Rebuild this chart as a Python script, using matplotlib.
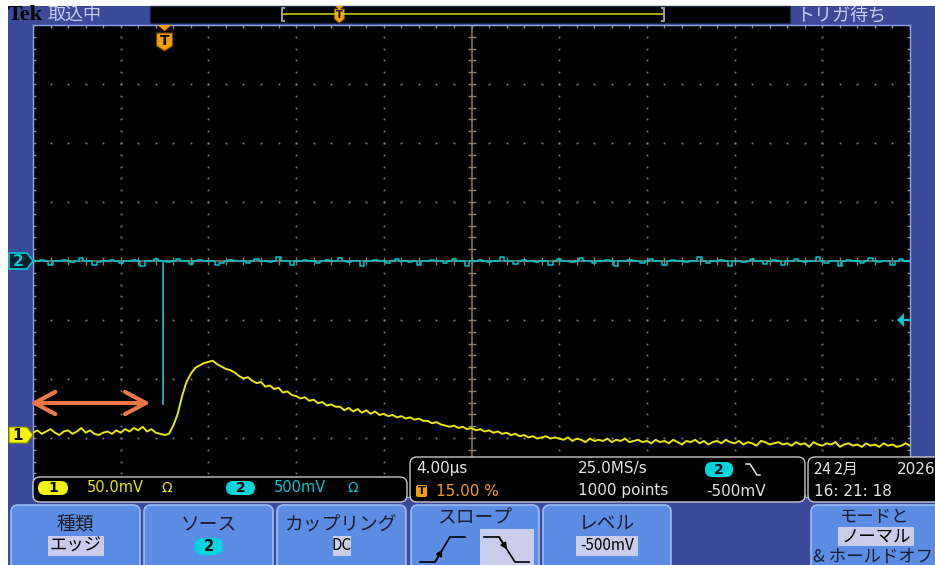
import numpy as np
import matplotlib.pyplot as plt
from matplotlib.patches import FancyBboxPatch, Rectangle, Polygon

plt.rcParams['font.family'] = ['Noto Sans CJK JP', 'DejaVu Sans']

W, H = 935, 565

# horizontal: 4 us/div, 10 div, trigger at 15 %
t_start, t_stop = -6.0, 34.0
trig_pct = 15.0

# CH1: 50 mV/div, position -2.95 div ; CH2: 500 mV/div, position 0 div
ch1_scale, ch1_pos = 50.0, -2.95
ch2_scale, ch2_pos = 500.0, 0.0
trig_level = -500.0

# CH1 samples every 0.2 us, mV
ch1_mv = [
    2, 4, 1, 3, 5, 2, 0, 3, 4, 1,
    3, 6, 2, 4, 1, 0, 2, 3, 1, 4,
    2, 5, 3, 6, 4, 7, 3, 5, 2, 1,
    0, 1, 8, 18, 33, 45, 52, 57, 59, 61,
    62, 63, 60, 58, 56, 55, 53, 50, 48, 49,
    46, 44, 45, 41, 42, 39, 40, 36, 37, 34,
    33, 31, 32, 29, 30, 27, 28, 25, 26, 24,
    24, 21, 23, 20, 22, 19, 21, 18, 20, 17,
    18, 16, 17, 15, 16, 14, 15, 13, 14, 12,
    12, 10, 11, 9, 8, 7, 8, 6, 7, 5,
    6, 4, 5, 3, 4, 2, 3, 1, 2, 0,
    1, -1, 0, -2, -1, -3, -2, -1, -3, -2,
    -3, -4, -2, -5, -3, -4, -6, -3, -5, -4,
    -5, -3, -6, -4, -5, -3, -6, -5, -4, -6,
    -5, -7, -4, -6, -5, -7, -4, -6, -8, -5,
    -6, -4, -7, -5, -8, -6, -5, -7, -4, -6,
    -7, -5, -8, -6, -7, -9, -5, -6, -8, -7,
    -6, -8, -7, -9, -6, -8, -7, -10, -6, -8,
    -9, -7, -8, -6, -10, -8, -7, -9, -8, -10,
    -7, -9, -8, -10, -7, -9, -8, -10, -9, -7,
    -9,
]

# CH2 samples every 0.2 us, mV
ch2_mv = [
    0, 0, 10, 0, -30, 0, 0, 8, 0, -10,
    0, 25, 0, 0, -35, -10, 0, 0, 10, 0,
    -20, 0, 0, 8, 0, -40, 0, 0, 15, 0,
    0, -10, 0, 20, 0, 0, -25, 0, 8, 0,
    0, 0, -30, -15, 0, 10, 0, 0, 0, -20,
    0, 15, 0, 0, -8, 0, 30, 0, 0, -35,
    0, 0, 10, 0, 0, -20, 0, 8, 0, 0,
    25, 0, -10, 0, 0, -40, 0, 0, 10, 0,
    0, -15, 0, 20, 0, 0, -8, 0, -30, 0,
    0, 10, 0, 0, -20, 0, 15, 0, 0, -45,
    0, 0, 8, 0, -10, 0, 0, 30, 0, 0,
    -25, 0, 10, 0, 0, -8, 0, 0, -35, 0,
    15, 0, 0, -10, 0, 25, 0, 0, -20, 0,
    0, 8, 0, -40, 0, 0, 10, 0, 0, -15,
    0, 20, 0, 0, -30, 0, 8, 0, 0, -10,
    0, 0, 35, 0, -20, 0, 0, 10, 0, -45,
    0, 0, -10, 0, 15, 0, 0, -25, 0, 8,
    0, -35, 0, 0, 20, 0, -10, 0, 0, 30,
    0, -15, 0, 0, -40, 0, 10, 0, 0, -20,
    0, 25, 0, -8, 0, 0, -30, 0, 15, 0,
    0,
]
# narrow negative pulse on CH2 (the trigger source)
ch2_glitch_t = -0.05
ch2_glitch_mv = -1220.0

ch1_text = ['50.0mV', 'Ω']
ch2_text = ['500mV', 'Ω']
horiz_text = ['4.00µs', '15.00 %', '25.0MS/s', '1000 points', '-500mV']
date_text = ['24 2月', '2026', '16: 21: 18']
button_titles = ['種類', 'ソース', 'カップリング', 'スロープ', 'レベル', 'モードと']
button_values = ['エッジ', '2', 'DC', None, '-500mV', 'ノーマル']

FRAME = '#3B4A99'
BTN = '#5B8DE4'
BTN_EDGE = '#9DBBF2'
HILITE = '#C9CCEA'
YEL = '#E8E800'
CYN = '#00C6D2'
ORG = '#F5A000'
TXT = '#1C1C2A'

# graticule in pixels
GL, GT, GR, GB = 33, 25, 910, 497


def rect(l, t, r, b):
    return [l / W, 1 - b / H, (r - l) / W, (b - t) / H]


def t_px(t):
    return GL + (t - t_start) / (t_stop - t_start) * (GR - GL)


def div_py(d):
    return (GT + GB) / 2 - d * (GB - GT) / 8


def rbox(ax, l, t, r, b, fc, ec='none', lw=1.0, rs=5, z=2):
    ax.add_patch(FancyBboxPatch((l, t), r - l, b - t,
                                boxstyle=f'round,pad=0,rounding_size={rs}',
                                fc=fc, ec=ec, lw=lw, zorder=z))


fig = plt.figure(figsize=(W / 100, H / 100), dpi=100, facecolor='white')

# frame / chrome underneath
bg = fig.add_axes([0, 0, 1, 1])
bg.set_xlim(0, W)
bg.set_ylim(H, 0)
bg.axis('off')
bg.set_zorder(0)
bg.add_patch(Rectangle((8, 6), W - 8, H - 6, fc=FRAME, ec='none'))
bg.add_patch(Rectangle((150, 6), 640, 17, fc='black', ec='#20284a', lw=1))
# record view
rec_l, rec_r = 282, 664
bg.plot([rec_l, rec_r], [14, 14], color='#C8C800', lw=1.2)
for bx, d in [(rec_l, 1), (rec_r, -1)]:
    bg.plot([bx + 2 * d, bx, bx, bx + 2 * d], [8, 8, 21, 21], color='#9a9a9a', lw=1.5)
tx = rec_l + trig_pct / 100 * (rec_r - rec_l)
bg.add_patch(Polygon([(tx - 5, 9), (tx + 5, 9), (tx + 5, 19), (tx, 23), (tx - 5, 19)],
                     fc=ORG, ec='#7a4a00', lw=0.6))
bg.text(tx, 15, 'T', ha='center', va='center', fontsize=7, fontweight='bold',
        color='black', family='DejaVu Sans')
bg.add_patch(Polygon([(tx - 4, 6), (tx + 4, 6), (tx, 10)], fc=ORG, ec='none'))

bg.text(8, 15, 'Tek', ha='left', va='center', fontsize=16, fontweight='bold',
        family='Liberation Serif', color='black')
bg.text(48, 15, '取込中', ha='left', va='center', fontsize=13, color='#C8D0F4')
bg.text(796, 15, 'トリガ待ち', ha='left', va='center', fontsize=13, color='#C8D0F4')

# graticule
gx = fig.add_axes(rect(GL, GT, GR, GB))
gx.set_zorder(1)
gx.set_facecolor('black')
gx.set_xlim(-5, 5)
gx.set_ylim(-4, 4)
gx.set_xticks([])
gx.set_yticks([])
for s in gx.spines.values():
    s.set_color('#8AA6E6')
    s.set_linewidth(1.0)

x_minor = np.arange(-5, 5.001, 0.2)
y_minor = np.arange(-4, 4.001, 0.2)
dot = dict(ls='none', marker='s', ms=1.3, mew=0, color='#7c7c7c')
for xv in range(-4, 5):
    if xv != 0:
        gx.plot(np.full_like(y_minor, xv), y_minor, **dot)
for yv in range(-3, 4):
    if yv != 0:
        gx.plot(x_minor, np.full_like(x_minor, yv), **dot)
gx.axvline(0, color='#6E6452', lw=1.4)
gx.axhline(0, color='#6E6452', lw=1.4)
gx.plot(np.zeros_like(y_minor), y_minor, ls='none', marker='_', ms=6, mew=1, color='#8a806c')
gx.plot(x_minor, np.zeros_like(x_minor), ls='none', marker='|', ms=6, mew=1, color='#8a806c')
tick = dict(ls='none', mew=1, color='#8a8a8a', clip_on=True)
gx.plot(x_minor, np.full_like(x_minor, 4), marker='|', ms=5, **tick)
gx.plot(x_minor, np.full_like(x_minor, -4), marker='|', ms=5, **tick)
gx.plot(np.full_like(y_minor, -5), y_minor, marker='_', ms=5, **tick)
gx.plot(np.full_like(y_minor, 5), y_minor, marker='_', ms=5, **tick)

# CH2 trace
ax2 = fig.add_axes(rect(GL, GT, GR, GB), frameon=False)
ax2.set_zorder(2)
ax2.patch.set_alpha(0)
ax2.set_xlim(t_start, t_stop)
ax2.set_ylim((-4 - ch2_pos) * ch2_scale, (4 - ch2_pos) * ch2_scale)
ax2.axis('off')
t2 = np.linspace(t_start, t_stop, len(ch2_mv))
ax2.plot(t2, ch2_mv, color=CYN, lw=1.1, drawstyle='steps-mid')
ax2.vlines([ch2_glitch_t], [ch2_glitch_mv], [0], color='#14A8B8', lw=1.4)

# CH1 trace
ax1 = fig.add_axes(rect(GL, GT, GR, GB), frameon=False)
ax1.set_zorder(3)
ax1.patch.set_alpha(0)
ax1.set_xlim(t_start, t_stop)
ax1.set_ylim((-4 - ch1_pos) * ch1_scale, (4 - ch1_pos) * ch1_scale)
ax1.axis('off')
t1 = np.linspace(t_start, t_stop, len(ch1_mv))
ax1.plot(t1, ch1_mv, color=YEL, lw=1.4)

# overlay: markers, readouts, buttons
ui = fig.add_axes([0, 0, 1, 1])
ui.set_zorder(5)
ui.patch.set_alpha(0)
ui.set_xlim(0, W)
ui.set_ylim(H, 0)
ui.axis('off')

# channel ground markers
y1 = div_py(ch1_pos)
ui.add_patch(Polygon([(9, y1 - 8), (27, y1 - 8), (33, y1), (27, y1 + 8), (9, y1 + 8)],
                     fc='#F4F400', ec='#8a8a00', lw=0.8))
ui.text(18, y1, '1', ha='center', va='center', fontsize=11, fontweight='bold',
        color='black', family='DejaVu Sans')
y2 = div_py(ch2_pos)
ui.add_patch(Polygon([(9, y2 - 8), (27, y2 - 8), (33, y2), (27, y2 + 8), (9, y2 + 8)],
                     fc='#06202e', ec=CYN, lw=1.2))
ui.text(18, y2, '2', ha='center', va='center', fontsize=11, fontweight='bold',
        color=CYN, family='DejaVu Sans')

# trigger level marker on the right edge
yl = div_py(trig_level / ch2_scale + ch2_pos)
ui.plot([GR - 6, GR], [yl, yl], color=CYN, lw=1.5)
ui.add_patch(Polygon([(GR - 13, yl), (GR - 6, yl - 7), (GR - 6, yl + 7)], fc=CYN, ec='none'))

# trigger position marker at the top
xt = t_px(0.0)
ui.add_patch(Polygon([(xt - 7, GT), (xt + 7, GT), (xt, GT + 6)], fc=ORG, ec='none'))
ui.add_patch(Polygon([(xt - 8, GT + 8), (xt + 8, GT + 8), (xt + 8, GT + 21),
                      (xt, GT + 26), (xt - 8, GT + 21)], fc=ORG, ec='#6a4000', lw=0.8))
ui.text(xt, GT + 16, 'T', ha='center', va='center', fontsize=10, fontweight='bold',
        color='black', family='DejaVu Sans')

# pre-trigger span arrow
ui.annotate('', xy=(t_px(t_start) - 3, 403), xytext=(t_px(-0.65), 403),
            arrowprops=dict(arrowstyle='<->,head_length=1.5,head_width=0.8',
                            color='#EE7646', lw=3, mutation_scale=10,
                            shrinkA=0, shrinkB=0))

# channel readout
rbox(ui, 33, 477, 407, 502, 'black', '#C8C8C8', 1, 7)
rbox(ui, 38, 481, 68, 495, '#F4F400', rs=7, z=3)
ui.text(53, 488, '1', ha='center', va='center', fontsize=10, fontweight='bold',
        color='black', family='DejaVu Sans', zorder=4)
ui.text(87, 488, ch1_text[0], ha='left', va='center', fontsize=10.5, color=YEL,
        family='DejaVu Sans')
ui.text(162, 488, ch1_text[1], ha='left', va='center', fontsize=10, color=YEL,
        family='DejaVu Sans')
rbox(ui, 226, 481, 255, 495, '#00D4DC', rs=7, z=3)
ui.text(240.5, 488, '2', ha='center', va='center', fontsize=10, fontweight='bold',
        color='black', family='DejaVu Sans', zorder=4)
ui.text(274, 488, ch2_text[0], ha='left', va='center', fontsize=10.5, color=CYN,
        family='DejaVu Sans')
ui.text(347, 488, ch2_text[1], ha='left', va='center', fontsize=10, color=CYN,
        family='DejaVu Sans')

# horizontal / trigger readout
WH = '#E4E4E4'
rbox(ui, 410, 457, 805, 502, 'black', '#C8C8C8', 1, 7)
ui.text(416, 469, horiz_text[0], ha='left', va='center', fontsize=11, color=WH,
        family='DejaVu Sans')
rbox(ui, 416, 485, 427, 497, ORG, rs=2, z=3)
ui.text(421.5, 491, 'T', ha='center', va='center', fontsize=8, fontweight='bold',
        color='black', family='DejaVu Sans', zorder=4)
ui.text(436, 491, horiz_text[1], ha='left', va='center', fontsize=11, color=ORG,
        family='DejaVu Sans')
ui.text(578, 469, horiz_text[2], ha='left', va='center', fontsize=11, color=WH,
        family='DejaVu Sans')
ui.text(578, 491, horiz_text[3], ha='left', va='center', fontsize=11, color=WH,
        family='DejaVu Sans')
rbox(ui, 705, 462, 733, 477, '#00D4DC', rs=7, z=3)
ui.text(719, 469.5, '2', ha='center', va='center', fontsize=10, fontweight='bold',
        color='black', family='DejaVu Sans', zorder=4)
ui.plot([746, 750, 757, 760], [464, 464, 475, 475], color=WH, lw=1.1)
ui.text(706, 491, horiz_text[4], ha='left', va='center', fontsize=11, color=WH,
        family='DejaVu Sans')

# date / time
rbox(ui, 808, 457, 950, 502, 'black', '#C8C8C8', 1, 7)
ui.text(814, 469, date_text[0], ha='left', va='center', fontsize=11, color=WH)
ui.text(897, 469, date_text[1], ha='left', va='center', fontsize=11, color=WH,
        family='DejaVu Sans')
ui.text(814, 491, date_text[2], ha='left', va='center', fontsize=11, color=WH,
        family='DejaVu Sans')

# soft-key buttons
btn_x = [(11, 140), (144, 273), (277, 406), (411, 539), (543, 671), (811, 950)]
for l, r in btn_x:
    rbox(ui, l, 505, r, 572, BTN, BTN_EDGE, 1.2, 7)


def hilite(cx, cy, s, w, fs=12):
    ui.add_patch(Rectangle((cx - w / 2, cy - 10), w, 20, fc=HILITE, ec='none', zorder=3))
    ui.text(cx, cy, s, ha='center', va='center', fontsize=fs, color='black', zorder=4)


cx = [(l + r) / 2 for l, r in btn_x]
for i in range(3):
    ui.text(cx[i], 525, button_titles[i], ha='center', va='center', fontsize=13.5, color=TXT)
hilite(cx[0], 546, button_values[0], 56, fs=12.5)
rbox(ui, cx[1] - 14, 538, cx[1] + 14, 555, '#00D4DC', rs=8, z=3)
ui.text(cx[1], 546.5, button_values[1], ha='center', va='center', fontsize=10.5,
        fontweight='bold', color='black', family='DejaVu Sans', zorder=4)
hilite(cx[2], 546, button_values[2], 18, fs=11)

ui.text(cx[3], 518, button_titles[3], ha='center', va='center', fontsize=13.5, color=TXT)
# slope icons: rising (unselected) and falling (selected)
ui.plot([420, 435, 450, 465], [562, 562, 537, 537], color='black', lw=1.2)
ui.annotate('', xy=(442.5, 549.5), xytext=(435, 562),
            arrowprops=dict(arrowstyle='-|>', color='black', lw=1.2, mutation_scale=9,
                            shrinkA=0, shrinkB=0))
ui.add_patch(Rectangle((480, 529), 54, 40, fc=HILITE, ec='none', zorder=3))
ui.plot([484, 499, 515, 529], [537, 537, 562, 562], color='black', lw=1.2, zorder=4)
ui.annotate('', xy=(507, 549.5), xytext=(499, 537),
            arrowprops=dict(arrowstyle='-|>', color='black', lw=1.2, mutation_scale=9,
                            shrinkA=0, shrinkB=0), zorder=4)

ui.text(cx[4], 523, button_titles[4], ha='center', va='center', fontsize=13.5, color=TXT)
hilite(cx[4], 546, button_values[4], 62, fs=11)

ui.text(874, 517, button_titles[5], ha='center', va='center', fontsize=12.5, color=TXT)
ui.add_patch(Rectangle((838, 527), 76, 19, fc=HILITE, ec='none', zorder=3))
ui.text(876, 536.5, button_values[5], ha='center', va='center', fontsize=12.5,
        color='black', zorder=4)
ui.text(813, 556, '& ホールドオフ', ha='left', va='center', fontsize=12.5, color=TXT)

fig.savefig('out.png', dpi=100, facecolor='white')
